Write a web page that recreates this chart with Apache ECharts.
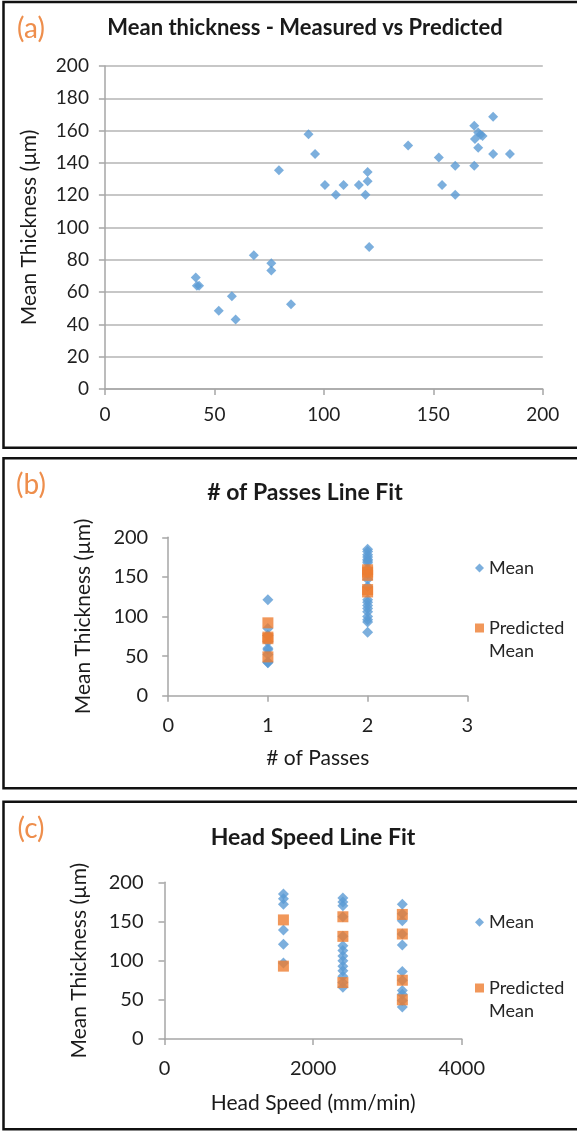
<!DOCTYPE html>
<html>
<head>
<meta charset="utf-8">
<script src="https://cdn.jsdelivr.net/npm/echarts@6.0.0/dist/echarts.min.js"></script>
<style>
  body { margin: 0; background: #fff; }
  .panel { position: absolute; left: 0; width: 577px; }
</style>
</head>
<body>
<div id="chartA" class="panel" style="top:0;height:450px"></div>
<div id="chartB" class="panel" style="top:450px;height:340px"></div>
<div id="chartC" class="panel" style="top:790px;height:341px"></div>
<script>
// (a) mean thickness, measured (x) vs predicted (y)
const aMeasured  = [41.5, 42, 43, 52, 58, 59.7, 68, 76, 76, 85, 79.5, 93, 96, 100.5, 105.5, 109, 116, 119, 120, 120, 120.7, 138.5, 152.5, 154, 160, 160, 168.7, 168.7, 169, 170.5, 170.5, 172.5, 171.5, 177.3, 177.3, 185];
const aPredicted = [69, 64, 64, 48.5, 57.5, 43, 82.8, 77.8, 73.3, 52.4, 135.4, 157.7, 145.5, 126.3, 120.3, 126.3, 126.3, 120.3, 134.4, 128.6, 87.9, 150.7, 143.4, 126.3, 138.3, 120.3, 138.3, 163, 154.8, 149.4, 158.9, 156.7, 157.5, 168.6, 145.5, 145.5];

// (b) # of passes line fit
const bMeanPasses = [1, 1, 1, 1, 1, 1, 1, 1, 1, 1, 1, 2, 2, 2, 2, 2, 2, 2, 2, 2, 2, 2, 2, 2, 2, 2, 2, 2, 2, 2, 2];
const bMean       = [121, 85, 76, 76, 68, 60, 58, 52, 43, 42, 41.5, 185, 182, 178, 175, 172, 170, 168, 160, 154, 147, 138, 121, 118, 114, 110, 106, 100, 96, 93, 80];
const bPredPasses = [1, 1, 1, 1, 2, 2, 2, 2, 2];
const bPredicted  = [92, 74, 72, 49, 159, 156, 152, 134, 131];

// (c) head speed line fit
const cMeanSpeed = [1600, 1600, 1600, 1600, 1600, 1600, 2400, 2400, 2400, 2400, 2400, 2400, 2400, 2400, 2400, 2400, 2400, 2400, 2400, 2400, 3200, 3200, 3200, 3200, 3200, 3200, 3200, 3200, 3200, 3200, 3200];
const cMean      = [185, 179, 172, 139, 121, 97, 180, 175, 170, 156, 131, 119, 113, 106, 100, 93, 87, 80, 72, 66, 172, 160, 151, 134, 120, 86, 75, 62, 57, 49, 41];
const cPredSpeed = [1600, 1600, 2400, 2400, 2400, 3200, 3200, 3200, 3200];
const cPredicted = [152, 93, 156, 131, 72, 159, 134, 75, 50];

const FONT = 'Lato, "Open Sans", sans-serif';
const BLUE = '#5B9BD5';
const ORANGE = '#ED7D31';
const AXIS = '#A6A6A6';

function pairs(xs, ys) {
  return xs.map((x, i) => [x, ys[i]]);
}

function panelGraphics(letter, title, titleSize, titleX, titleY, box) {
  return [
    { type: 'rect', shape: box, style: { fill: 'none', stroke: '#111', lineWidth: 2.5 }, silent: true },
    { type: 'text', x: 31, y: box.y + 27, style: { text: letter, font: '28px ' + FONT, fill: '#EE8E4C', align: 'center', verticalAlign: 'middle' } },
    { type: 'text', x: titleX, y: titleY, style: { text: title, font: 'bold ' + titleSize + 'px ' + FONT, fill: '#1a1a1a', align: 'center', verticalAlign: 'middle' } }
  ];
}

function axisBase(min, max, interval, fontSize, margin) {
  return {
    type: 'value', min: min, max: max, interval: interval,
    axisLine: { show: true, lineStyle: { color: AXIS, width: 1.5 } },
    axisTick: { show: true, length: 6, lineStyle: { color: AXIS, width: 1.5 } },
    axisLabel: { fontSize: fontSize, fontFamily: FONT, color: '#1f1f1f', margin: margin, formatter: v => String(v) },
    splitLine: { show: false },
    nameTextStyle: { fontSize: 21, fontFamily: FONT, color: '#1a1a1a' }
  };
}

function legends(meanTop, predTop) {
  const common = {
    orient: 'vertical', left: 475, padding: 0, itemWidth: 9, itemHeight: 9,
    textStyle: { fontSize: 18, fontFamily: FONT, color: '#262626', lineHeight: 23 }
  };
  return [
    Object.assign({}, common, { top: meanTop, data: [{ name: 'Mean', icon: 'diamond' }] }),
    Object.assign({}, common, {
      top: predTop, data: [{ name: 'Predicted Mean', icon: 'rect' }],
      formatter: () => ' \nPredicted\nMean'
    })
  ];
}

// ---- (a)
const chartA = echarts.init(document.getElementById('chartA'));
const xA = axisBase(0, 200, 50, 19, 16);
const yA = axisBase(0, 200, 20, 19, 16);
yA.splitLine = { show: true, lineStyle: { color: '#B5B5B5', width: 1.6 } };
yA.name = 'Mean Thickness (µm)';
yA.nameLocation = 'middle';
yA.nameGap = 65;
chartA.setOption({
  animation: false,
  textStyle: { fontFamily: FONT },
  graphic: panelGraphics('(a)', 'Mean thickness - Measured vs Predicted', 22, 305, 28, { x: 3.5, y: 2, width: 700, height: 445.7 }),
  grid: { left: 104.9, right: 34.2, top: 66, bottom: 61 },
  xAxis: xA,
  yAxis: yA,
  series: [{
    type: 'scatter', symbol: 'diamond', symbolSize: 10,
    itemStyle: { color: BLUE },
    data: pairs(aMeasured, aPredicted)
  }]
});

// ---- (b)
const chartB = echarts.init(document.getElementById('chartB'));
const xB = axisBase(0, 3, 1, 20, 20);
xB.name = '# of Passes';
xB.nameLocation = 'middle';
xB.nameGap = 52;
const yB = axisBase(0, 200, 50, 20, 20);
yB.name = 'Mean Thickness (µm)';
yB.nameLocation = 'middle';
yB.nameGap = 74;
chartB.setOption({
  animation: false,
  textStyle: { fontFamily: FONT },
  graphic: panelGraphics('(b)', '# of Passes Line Fit', 23, 305, 43, { x: 3.5, y: 8.3, width: 700, height: 330 }),
  grid: { left: 168.2, right: 109.7, top: 87.3, bottom: 94.3 },
  legend: legends(106.5, 143.5),
  xAxis: xB,
  yAxis: yB,
  series: [
    { name: 'Mean', type: 'scatter', symbol: 'diamond', symbolSize: 11, itemStyle: { color: BLUE }, data: pairs(bMeanPasses, bMean) },
    { name: 'Predicted Mean', type: 'scatter', symbol: 'rect', symbolSize: 11, itemStyle: { color: ORANGE }, data: pairs(bPredPasses, bPredicted) }
  ]
});

// ---- (c)
const chartC = echarts.init(document.getElementById('chartC'));
const xC = axisBase(0, 4000, 2000, 20, 20);
xC.name = 'Head Speed (mm/min)';
xC.nameLocation = 'middle';
xC.nameGap = 54;
const yC = axisBase(0, 200, 50, 20, 21);
yC.name = 'Mean Thickness (µm)';
yC.nameLocation = 'middle';
yC.nameGap = 75;
chartC.setOption({
  animation: false,
  textStyle: { fontFamily: FONT },
  graphic: panelGraphics('(c)', 'Head Speed Line Fit', 23, 313, 47.7, { x: 3.5, y: 11.7, width: 700, height: 327.6 }),
  grid: { left: 164.5, right: 115.2, top: 92.3, bottom: 92 },
  legend: legends(120.8, 163.5),
  xAxis: xC,
  yAxis: yC,
  series: [
    { name: 'Mean', type: 'scatter', symbol: 'diamond', symbolSize: 11, itemStyle: { color: BLUE }, data: pairs(cMeanSpeed, cMean) },
    { name: 'Predicted Mean', type: 'scatter', symbol: 'rect', symbolSize: 11, itemStyle: { color: ORANGE }, data: pairs(cPredSpeed, cPredicted) }
  ]
});
</script>
</body>
</html>
